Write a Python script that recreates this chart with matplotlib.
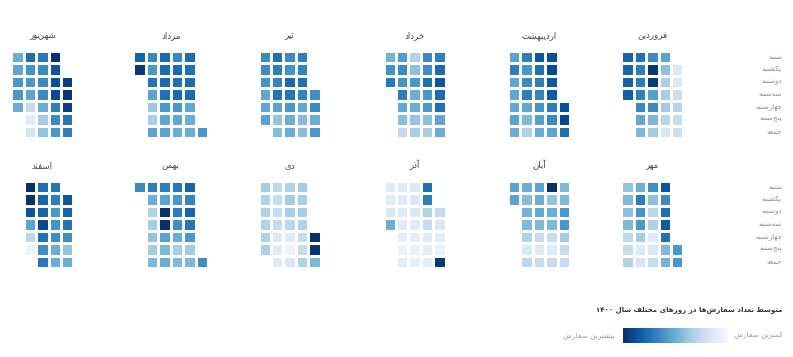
import re

import numpy as np
import matplotlib
matplotlib.use("Agg")
from matplotlib import pyplot as plt
from matplotlib import transforms
from matplotlib.colors import Normalize
from matplotlib.cm import ScalarMappable

# --- data ---------------------------------------------------------------
months = ['فروردین', 'اردیبهشت', 'خرداد', 'تیر', 'مرداد', 'شهریور',
          'مهر', 'آبان', 'آذر', 'دی', 'بهمن', 'اسفند']
weekdays = ['شنبه', 'یکشنبه', 'دوشنبه', 'سه‌شنبه', 'چهارشنبه', 'پنج‌شنبه', 'جمعه']
# weekday of the 1st of each month (0 = شنبه)
first_weekday = [1, 4, 0, 3, 6, 2, 5, 0, 2, 4, 6, 1]

# average orders per day, in day order
farvardin = [15, 15, 22, 30, 24, 22,
             55, 42, 33, 35, 37, 30, 17,
             65, 97, 96, 57, 65, 46, 36,
             75, 70, 70, 70, 66, 53, 46,
             80, 80, 81, 82]
ordibehesht = [88, 90, 75,
               88, 90, 85, 84, 70, 65, 55,
               85, 75, 70, 68, 62, 56, 50,
               70, 60, 65, 70, 53, 45, 32,
               55, 70, 53, 53, 52, 55, 50]
khordad = [70, 78, 86, 77, 75, 53, 50,
           65, 64, 76, 60, 60, 42, 35,
           32, 42, 60, 50, 50, 40, 35,
           58, 65, 62, 70, 52, 43, 26,
           48, 62, 72]
tir = [64, 65, 50, 60,
       70, 68, 75, 68, 53, 43, 43,
       65, 62, 78, 73, 60, 50, 50,
       75, 70, 68, 74, 55, 40, 43,
       65, 64, 62, 53, 53, 55]
mordad = [60,
          77, 75, 77, 78, 53, 50, 50,
          66, 78, 75, 78, 60, 53, 50,
          77, 77, 78, 75, 60, 53, 55,
          66, 60, 74, 55, 38, 35, 55,
          80, 97]
shahrivar = [94, 97, 94, 73, 70,
             100, 86, 88, 90, 70, 65, 60,
             72, 65, 65, 65, 50, 36, 40,
             75, 62, 60, 55, 25, 13, 18,
             50, 53, 60, 60, 50]
mehr = [60, 60,
        86, 65, 76, 84, 75, 45, 48,
        64, 42, 28, 32, 13, 15, 25,
        50, 70, 62, 60, 36, 13, 17,
        40, 45, 42, 45, 28, 25, 32]
aban = [45, 45, 60, 60, 36, 25, 25,
        100, 40, 50, 45, 25, 12, 25,
        55, 50, 53, 45, 25, 14, 25,
        50, 43, 48, 45, 32, 15, 28,
        55, 55]
azar = [25, 15, 10, 8, 96,
        75, 70, 32, 25, 12, 10, 10,
        14, 15, 15, 12, 10, 8, 10,
        13, 13, 12, 12, 10, 6, 10,
        13, 12, 15, 50]
dey = [100, 98, 45,
       35, 35, 35, 32, 25, 25, 32,
       32, 36, 35, 28, 12, 6, 15,
       28, 25, 25, 25, 15, 12, 12,
       35, 32, 32, 32, 32, 33]
bahman = [64,
          80, 68, 80, 73, 60, 36, 45,
          72, 60, 70, 64, 50, 35, 45,
          70, 55, 100, 100, 55, 45, 50,
          70, 50, 32, 35, 40, 36, 45,
          65]
esfand = [85, 80, 74, 64, 40, 50,
          73, 70, 60, 62, 64, 50, 50,
          76, 80, 80, 90, 74, 64, 73,
          100, 100, 86, 55, 28, 6]
values = [farvardin, ordibehesht, khordad, tir, mordad, shahrivar,
          mehr, aban, azar, dey, bahman, esfand]

chart_title = 'متوسط تعداد سفارش‌ها در روزهای مختلف سال ۱۴۰۰'
low_label = 'کمترین سفارش'
high_label = 'بیشترین سفارش'

# --- persian shaping (matplotlib has no bidi / joining) -----------------
FORMS = {  # isolated, final, initial, medial
    'ا': ('\uFE8D', '\uFE8E', None, None),
    'آ': ('\uFE81', '\uFE82', None, None),
    'ب': ('\uFE8F', '\uFE90', '\uFE91', '\uFE92'),
    'پ': ('\uFB56', '\uFB57', '\uFB58', '\uFB59'),
    'ت': ('\uFE95', '\uFE96', '\uFE97', '\uFE98'),
    'ج': ('\uFE9D', '\uFE9E', '\uFE9F', '\uFEA0'),
    'چ': ('\uFB7A', '\uFB7B', '\uFB7C', '\uFB7D'),
    'خ': ('\uFEA5', '\uFEA6', '\uFEA7', '\uFEA8'),
    'د': ('\uFEA9', '\uFEAA', None, None),
    'ذ': ('\uFEAB', '\uFEAC', None, None),
    'ر': ('\uFEAD', '\uFEAE', None, None),
    'ز': ('\uFEAF', '\uFEB0', None, None),
    'س': ('\uFEB1', '\uFEB2', '\uFEB3', '\uFEB4'),
    'ش': ('\uFEB5', '\uFEB6', '\uFEB7', '\uFEB8'),
    'ط': ('\uFEC1', '\uFEC2', '\uFEC3', '\uFEC4'),
    'ع': ('\uFEC9', '\uFECA', '\uFECB', '\uFECC'),
    'ف': ('\uFED1', '\uFED2', '\uFED3', '\uFED4'),
    'ک': ('\uFB8E', '\uFB8F', '\uFB90', '\uFB91'),
    'ل': ('\uFEDD', '\uFEDE', '\uFEDF', '\uFEE0'),
    'م': ('\uFEE1', '\uFEE2', '\uFEE3', '\uFEE4'),
    'ن': ('\uFEE5', '\uFEE6', '\uFEE7', '\uFEE8'),
    'ه': ('\uFEE9', '\uFEEA', '\uFEEB', '\uFEEC'),
    'و': ('\uFEED', '\uFEEE', None, None),
    'ی': ('\uFBFC', '\uFBFD', '\uFBFE', '\uFBFF'),
}


def fa(text):
    """Join letters and put the string in visual (right-to-left) order."""
    out = []
    for i, ch in enumerate(text):
        if ch not in FORMS:
            if ch != '\u200c':
                out.append(ch)
            continue
        prev = text[i - 1] if i > 0 else ''
        nxt = text[i + 1] if i + 1 < len(text) else ''
        join_prev = prev in FORMS and FORMS[prev][2] is not None
        join_next = nxt in FORMS and FORMS[ch][2] is not None
        iso, fin, ini, med = FORMS[ch]
        if join_prev and join_next:
            out.append(med)
        elif join_prev:
            out.append(fin)
        elif join_next:
            out.append(ini)
        else:
            out.append(iso)
    shaped = ''.join(out)
    parts = re.split(r'([0-9۰-۹]+)', shaped)
    return ''.join(p if re.fullmatch(r'[0-9۰-۹]+', p) else p[::-1]
                   for p in reversed(parts))


# --- layout ---------------------------------------------------------------
W, H = 793, 357
pitch = 12.43
slot_right = [683.4, 570, 445.7, 320.7, 208, 73.4]
row_top = [51, 181]

plt.rcParams['font.family'] = ['DejaVu Sans']
fig = plt.figure(figsize=(W / 100, H / 100), dpi=100)
norm = Normalize(vmin=0, vmax=100)


def px_axes(left, top, width, height):
    return fig.add_axes([left / W, 1 - (top + height) / H, width / W, height / H])


for i, (name, first, vals) in enumerate(zip(months, first_weekday, values)):
    n_weeks = (first + len(vals) - 1) // 7 + 1
    cols = max(n_weeks, 5)
    grid = np.full((7, cols), np.nan)
    for d, v in enumerate(vals):
        grid[(first + d) % 7, (first + d) // 7] = v
    width = cols * pitch
    ax = px_axes(slot_right[i % 6] - width, row_top[i // 6], width, 7 * pitch)
    ax.pcolormesh(np.ma.masked_invalid(grid), cmap='Blues', norm=norm,
                  edgecolors='white', linewidth=1.0)
    ax.set_xlim(cols, 0)
    ax.set_ylim(7, 0)
    ax.axis('off')
    ax.set_title(fa(name), fontsize=6.2, color='#444444', pad=9)

    if i % 6 == 0:
        trans = transforms.blended_transform_factory(fig.transFigure, ax.transData)
        for r, day in enumerate(weekdays):
            ax.text(782 / W, r + 0.5, fa(day), transform=trans, ha='right',
                    va='center', fontsize=5, color='#8a8a8a')

fig.text(783 / W, 1 - 310 / H, fa(chart_title), ha='right', va='center',
         fontsize=5, fontweight='bold', color='#333333')

cax = px_axes(623.3, 328.3, 105, 14.4)
cb = fig.colorbar(ScalarMappable(norm=norm, cmap='Blues'), cax=cax,
                  orientation='horizontal')
cax.invert_xaxis()
cb.outline.set_visible(False)
cax.set_xticks([])
fig.text(615 / W, 1 - 335.7 / H, fa(high_label), ha='right', va='center',
         fontsize=5.3, color='#9a9a9a')
fig.text(782.7 / W, 1 - 335.7 / H, fa(low_label), ha='right', va='center',
         fontsize=5.3, color='#9a9a9a')

fig.savefig('out.png', dpi=100, facecolor='white')
